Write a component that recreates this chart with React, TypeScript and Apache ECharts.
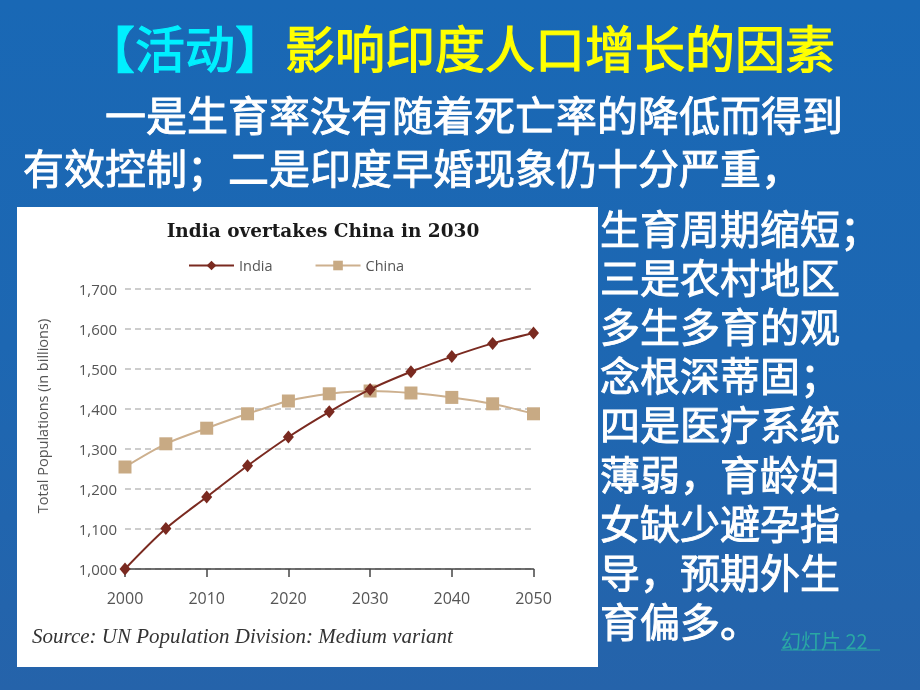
import React, { useEffect, useRef } from "react";
import * as echarts from "echarts";

const years = [2000, 2005, 2010, 2015, 2020, 2025, 2030, 2035, 2040, 2045, 2050];
const india = [1000, 1101, 1180, 1258, 1330, 1393, 1449, 1493, 1531, 1564, 1590];
const china = [1255, 1313, 1352, 1388, 1420, 1438, 1445, 1440, 1429, 1413, 1388];

const slideTitleA = "【活动】";
const slideTitleB = "影响印度人口增长的因素";
const paraLines = ["　　一是生育率没有随着死亡率的降低而得到", "有效控制；二是印度早婚现象仍十分严重，"];
const sideLines = [
  "生育周期缩短；",
  "三是农村地区",
  "多生多育的观",
  "念根深蒂固；",
  "四是医疗系统",
  "薄弱，育龄妇",
  "女缺少避孕指",
  "导，预期外生",
  "育偏多。",
];
const chartTitle = "India overtakes China in 2030";
const yAxisName = "Total Populations (in billions)";
const sourceText = "Source: UN Population Division: Medium variant";
const slideNo = "幻灯片 22";

const CJK = '"Noto Sans CJK SC", "Noto Sans", sans-serif';

export default function App() {
  const ref = useRef<HTMLDivElement>(null);
  useEffect(() => {
    if (!ref.current) return;
    const chart = echarts.init(ref.current, null, { renderer: "svg" });
    const graphics: any[] = [
      {
        type: "rect",
        z: -20,
        shape: { x: 0, y: 0, width: 920, height: 690 },
        style: {
          fill: new echarts.graphic.LinearGradient(0, 0, 0, 1, [
            { offset: 0, color: "#1968b5" },
            { offset: 0.5, color: "#1d67b2" },
            { offset: 1, color: "#2563aa" },
          ]),
        },
        silent: true,
      },
      {
        type: "rect",
        z: -10,
        shape: { x: 17, y: 207, width: 581, height: 460 },
        style: { fill: "#ffffff" },
        silent: true,
      },
      {
        type: "text",
        z: 5,
        x: 85,
        y: 46,
        style: {
          text: slideTitleA,
          fill: "#00f0ff",
          stroke: "#00f0ff",
          lineWidth: 1.2,
          font: `50px ${CJK}`,
          textVerticalAlign: "middle",
        },
      },
      {
        type: "text",
        z: 5,
        x: 285,
        y: 46,
        style: {
          text: slideTitleB,
          fill: "#ffff00",
          stroke: "#ffff00",
          lineWidth: 1.2,
          font: `50px ${CJK}`,
          textVerticalAlign: "middle",
        },
      },
      {
        type: "text",
        z: 5,
        x: 23,
        y: 86,
        style: {
          text: paraLines.join("\n"),
          fill: "#ffffff",
          stroke: "#ffffff",
          lineWidth: 0.9,
          font: `41px ${CJK}`,
          lineHeight: 53,
          textVerticalAlign: "top",
        },
      },
      {
        type: "text",
        z: 5,
        x: 600,
        y: 202.5,
        style: {
          text: sideLines.join("\n"),
          fill: "#ffffff",
          stroke: "#ffffff",
          lineWidth: 0.9,
          font: `40px ${CJK}`,
          lineHeight: 49.1,
          textVerticalAlign: "top",
        },
      },
      {
        type: "text",
        z: 5,
        x: 781,
        y: 640,
        style: { text: slideNo, fill: "#2aa8a4", font: `20px ${CJK}`, textVerticalAlign: "middle" },
      },
      {
        type: "line",
        z: 5,
        shape: { x1: 781, y1: 650, x2: 880, y2: 650 },
        style: { stroke: "#2aa8a4", lineWidth: 1 },
      },
      {
        type: "text",
        z: 5,
        x: 42,
        y: 416,
        rotation: Math.PI / 2,
        style: {
          text: yAxisName,
          fill: "#555555",
          font: '14.5px "Open Sans", sans-serif',
          textAlign: "center",
          textVerticalAlign: "middle",
        },
      },
      {
        type: "text",
        z: 5,
        x: 32,
        y: 636,
        style: {
          text: sourceText,
          fill: "#333333",
          font: 'italic 21px "Liberation Serif", serif',
          textVerticalAlign: "middle",
        },
      },
    ];

    chart.setOption({
      animation: false,
      title: {
        text: chartTitle,
        left: 318,
        top: 216,
        textAlign: "center",
        textStyle: {
          fontFamily: '"DejaVu Serif", serif',
          fontWeight: "bold",
          fontSize: 18.5,
          color: "#1a1a1a",
        },
      },
      legend: {
        left: 188,
        top: 258,
        padding: 0,
        itemWidth: 45,
        itemHeight: 12,
        itemGap: 42,
        textStyle: { fontFamily: '"Open Sans", sans-serif', fontSize: 14.5, color: "#555" },
        data: ["India", "China"],
      },
      grid: { left: 125, right: 386.5, top: 289, bottom: 121, containLabel: false },
      xAxis: {
        type: "value",
        min: 2000,
        max: 2050,
        interval: 10,
        axisLine: { show: true, lineStyle: { color: "#444", width: 1.5 } },
        axisTick: { show: true, length: 8, lineStyle: { color: "#444", width: 1.5 } },
        axisLabel: {
          margin: 21,
          fontFamily: '"Open Sans", sans-serif',
          fontSize: 16,
          color: "#555",
          formatter: (v: number) => String(v),
        },
        splitLine: { show: false },
      },
      yAxis: {
        type: "value",
        min: 1000,
        max: 1700,
        interval: 100,
        axisLine: { show: false },
        axisTick: { show: false },
        axisLabel: {
          margin: 8,
          fontFamily: '"Open Sans", sans-serif',
          fontSize: 15,
          color: "#555",
          formatter: (v: number) => v.toLocaleString("en-US"),
        },
        splitLine: { show: true, lineStyle: { color: "#bdbdbd", width: 1.5, type: [6, 4] } },
      },
      series: [
        {
          name: "India",
          type: "line",
          smooth: 0.3,
          data: years.map((y, i) => [y, india[i]]),
          symbol: "diamond",
          symbolSize: [11, 13],
          lineStyle: { color: "#7a2a20", width: 2 },
          itemStyle: { color: "#7a2a20" },
          z: 4,
        },
        {
          name: "China",
          type: "line",
          smooth: 0.3,
          data: years.map((y, i) => [y, china[i]]),
          symbol: "rect",
          symbolSize: 13,
          lineStyle: { color: "#cdb08e", width: 2 },
          itemStyle: { color: "#c8aa84" },
          z: 3,
        },
      ],
      graphic: graphics,
    });
    return () => chart.dispose();
  }, []);
  return (
    <div
      ref={ref}
      style={{ position: "fixed", left: 0, top: 0, width: 920, height: 690 }}
    />
  );
}
